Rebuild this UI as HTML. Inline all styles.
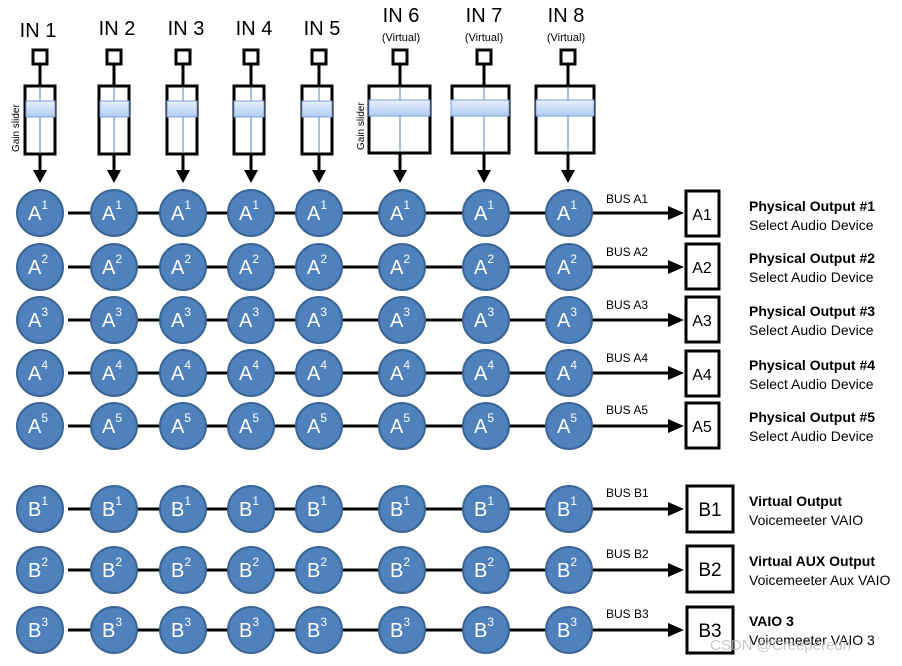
<!DOCTYPE html>
<html><head><meta charset="utf-8"><style>
html,body{margin:0;padding:0;background:#fff}
svg{display:block;font-family:"Liberation Sans",sans-serif}
.c{fill:#4f81bd;stroke:#3a6594;stroke-width:2}
.t{fill:#fff;font-size:20px}
.s{font-size:12px}
.ln{stroke:#000;stroke-width:3}
.box{fill:#fff;stroke:#000;stroke-width:3}
.in{font-size:20px;text-anchor:middle}
.v{font-size:11px;text-anchor:middle}
.bus{font-size:12px}
.ob{font-size:14px;font-weight:bold}
.od{font-size:14px}
.ol{font-size:19px;text-anchor:middle}
</style></head><body>
<svg width="902" height="666" viewBox="0 0 902 666">
<defs>
<linearGradient id="kn" x1="0" y1="0" x2="0" y2="1"><stop offset="0" stop-color="#e8f0fc"/><stop offset="1" stop-color="#aecbf3"/></linearGradient>
</defs>
<g>
<text class="in" x="38" y="37">IN 1</text>
<text class="in" x="117" y="35">IN 2</text>
<text class="in" x="186" y="35">IN 3</text>
<text class="in" x="254" y="35">IN 4</text>
<text class="in" x="322" y="35">IN 5</text>
<text class="in" x="401" y="22">IN 6</text>
<text class="in" x="484" y="22">IN 7</text>
<text class="in" x="566" y="22">IN 8</text>
<text class="v" x="401" y="41">(Virtual)</text>
<text class="v" x="484" y="41">(Virtual)</text>
<text class="v" x="566" y="41">(Virtual)</text>
<text font-size="10" transform="translate(19,152) rotate(-90)">Gain slider</text>
<text font-size="10" transform="translate(364,150) rotate(-90)">Gain slider</text>
</g>
<g stroke="#000" stroke-width="3" fill="#fff">
<rect x="33" y="50" width="14" height="14"/><rect x="107" y="50" width="14" height="14"/><rect x="176" y="50" width="14" height="14"/><rect x="244" y="50" width="14" height="14"/><rect x="312" y="50" width="14" height="14"/>
<rect x="393" y="50" width="14" height="14"/><rect x="477" y="50" width="14" height="14"/><rect x="561" y="50" width="14" height="14"/>
<path d="M40,64V86 M114,64V86 M183,64V86 M251,64V86 M319,64V86 M400,64V86 M484,64V86 M568,64V86" fill="none"/>
<rect x="25" y="86" width="30" height="68"/><rect x="99" y="86" width="30" height="68"/><rect x="167" y="86" width="30" height="68"/><rect x="234" y="86" width="30" height="68"/><rect x="302" y="86" width="30" height="68"/>
<rect x="369" y="86" width="61" height="67"/><rect x="452" y="86" width="57" height="67"/><rect x="536" y="86" width="58" height="67"/>
<path d="M40,154V172 M114,154V172 M183,154V172 M251,154V172 M319,154V172 M400,153V172 M484,153V172 M568,153V172" fill="none"/>
</g>
<g stroke="#4f81bd" stroke-width="1">
<path d="M40,88V152 M114,88V152 M183,88V152 M251,88V152 M319,88V152 M400,88V151 M484,88V151 M568,88V151"/>
</g>
<g fill="url(#kn)" stroke="#7aa0d8" stroke-width="1">
<rect x="26" y="101" width="29" height="16"/><rect x="100" y="101" width="29" height="16"/><rect x="167" y="101" width="30" height="16"/><rect x="234" y="101" width="30" height="16"/><rect x="302" y="101" width="30" height="16"/>
<rect x="369" y="100" width="61" height="16"/><rect x="451" y="100" width="58" height="16"/><rect x="536" y="100" width="58" height="16"/>
</g>
<g fill="#000">
<path d="M33,170h14l-7,13z"/><path d="M107,170h14l-7,13z"/><path d="M176,170h14l-7,13z"/><path d="M244,170h14l-7,13z"/><path d="M312,170h14l-7,13z"/><path d="M393,170h14l-7,13z"/><path d="M477,170h14l-7,13z"/><path d="M561,170h14l-7,13z"/>
</g>
<g class="ln">
<path d="M68,213H672 M68,267H672 M68,320H672 M68,373H672 M68,426H672 M68,509H672 M68,570H672 M68,630H672"/>
</g>
<g fill="#000">
<path d="M668,206l16,7l-16,7z"/><path d="M668,260l16,7l-16,7z"/><path d="M668,313l16,7l-16,7z"/><path d="M668,366l16,7l-16,7z"/><path d="M668,419l16,7l-16,7z"/><path d="M668,502l16,7l-16,7z"/><path d="M668,563l16,7l-16,7z"/><path d="M668,623l16,7l-16,7z"/>
</g>
<g class="bus">
<text x="606" y="203">BUS A1</text><text x="606" y="256">BUS A2</text><text x="606" y="309">BUS A3</text><text x="606" y="362">BUS A4</text><text x="606" y="414">BUS A5</text>
<text x="606" y="497">BUS B1</text><text x="606" y="558">BUS B2</text><text x="606" y="618">BUS B3</text>
</g>
<g class="box">
<rect x="686" y="191" width="33" height="45"/><rect x="686" y="244" width="33" height="45"/><rect x="686" y="297" width="33" height="45"/><rect x="686" y="351" width="33" height="45"/><rect x="686" y="403" width="33" height="45"/>
<rect x="687" y="486" width="46" height="46"/><rect x="687" y="546" width="46" height="46"/><rect x="687" y="607" width="46" height="46"/>
</g>
<g class="ol">
<text x="702" y="220" font-size="16">A1</text><text x="702" y="273" font-size="16">A2</text><text x="702" y="326" font-size="16">A3</text><text x="702" y="380" font-size="16">A4</text><text x="702" y="432" font-size="16">A5</text>
<text x="710" y="516">B1</text><text x="710" y="576">B2</text><text x="710" y="637">B3</text>
</g>
<g>
<text class="ob" x="749" y="211">Physical Output #1</text><text class="od" x="749" y="230">Select Audio Device</text>
<text class="ob" x="749" y="263">Physical Output #2</text><text class="od" x="749" y="282">Select Audio Device</text>
<text class="ob" x="749" y="316">Physical Output #3</text><text class="od" x="749" y="335">Select Audio Device</text>
<text class="ob" x="749" y="370">Physical Output #4</text><text class="od" x="749" y="389">Select Audio Device</text>
<text class="ob" x="749" y="422">Physical Output #5</text><text class="od" x="749" y="441">Select Audio Device</text>
<text class="ob" x="749" y="506">Virtual Output</text><text class="od" x="749" y="525">Voicemeeter VAIO</text>
<text class="ob" x="749" y="566">Virtual AUX Output</text><text class="od" x="749" y="585">Voicemeeter Aux VAIO</text>
<text class="ob" x="749" y="626">VAIO 3</text><text class="od" x="749" y="645">Voicemeeter VAIO 3</text>
<text x="710" y="650" font-size="15" fill="#bbb" opacity="0.8">CSDN @Creeperedn</text>
</g>
<g class="c">
<circle cx="40" cy="213" r="23"/><circle cx="114" cy="213" r="23"/><circle cx="183" cy="213" r="23"/><circle cx="251" cy="213" r="23"/><circle cx="319" cy="213" r="23"/><circle cx="402" cy="213" r="23"/><circle cx="486" cy="213" r="23"/><circle cx="569" cy="213" r="23"/>
<circle cx="40" cy="267" r="23"/><circle cx="114" cy="267" r="23"/><circle cx="183" cy="267" r="23"/><circle cx="251" cy="267" r="23"/><circle cx="319" cy="267" r="23"/><circle cx="402" cy="267" r="23"/><circle cx="486" cy="267" r="23"/><circle cx="569" cy="267" r="23"/>
<circle cx="40" cy="320" r="23"/><circle cx="114" cy="320" r="23"/><circle cx="183" cy="320" r="23"/><circle cx="251" cy="320" r="23"/><circle cx="319" cy="320" r="23"/><circle cx="402" cy="320" r="23"/><circle cx="486" cy="320" r="23"/><circle cx="569" cy="320" r="23"/>
<circle cx="40" cy="373" r="23"/><circle cx="114" cy="373" r="23"/><circle cx="183" cy="373" r="23"/><circle cx="251" cy="373" r="23"/><circle cx="319" cy="373" r="23"/><circle cx="402" cy="373" r="23"/><circle cx="486" cy="373" r="23"/><circle cx="569" cy="373" r="23"/>
<circle cx="40" cy="426" r="23"/><circle cx="114" cy="426" r="23"/><circle cx="183" cy="426" r="23"/><circle cx="251" cy="426" r="23"/><circle cx="319" cy="426" r="23"/><circle cx="402" cy="426" r="23"/><circle cx="486" cy="426" r="23"/><circle cx="569" cy="426" r="23"/>
<circle cx="40" cy="509" r="23"/><circle cx="114" cy="509" r="23"/><circle cx="183" cy="509" r="23"/><circle cx="251" cy="509" r="23"/><circle cx="319" cy="509" r="23"/><circle cx="402" cy="509" r="23"/><circle cx="486" cy="509" r="23"/><circle cx="569" cy="509" r="23"/>
<circle cx="40" cy="570" r="23"/><circle cx="114" cy="570" r="23"/><circle cx="183" cy="570" r="23"/><circle cx="251" cy="570" r="23"/><circle cx="319" cy="570" r="23"/><circle cx="402" cy="570" r="23"/><circle cx="486" cy="570" r="23"/><circle cx="569" cy="570" r="23"/>
<circle cx="40" cy="630" r="23"/><circle cx="114" cy="630" r="23"/><circle cx="183" cy="630" r="23"/><circle cx="251" cy="630" r="23"/><circle cx="319" cy="630" r="23"/><circle cx="402" cy="630" r="23"/><circle cx="486" cy="630" r="23"/><circle cx="569" cy="630" r="23"/>
</g>
<g class="t">
<text x="28" y="220">A<tspan class="s" dy="-11">1</tspan></text><text x="102" y="220">A<tspan class="s" dy="-11">1</tspan></text><text x="171" y="220">A<tspan class="s" dy="-11">1</tspan></text><text x="239" y="220">A<tspan class="s" dy="-11">1</tspan></text><text x="307" y="220">A<tspan class="s" dy="-11">1</tspan></text><text x="390" y="220">A<tspan class="s" dy="-11">1</tspan></text><text x="474" y="220">A<tspan class="s" dy="-11">1</tspan></text><text x="557" y="220">A<tspan class="s" dy="-11">1</tspan></text>
<text x="28" y="274">A<tspan class="s" dy="-11">2</tspan></text><text x="102" y="274">A<tspan class="s" dy="-11">2</tspan></text><text x="171" y="274">A<tspan class="s" dy="-11">2</tspan></text><text x="239" y="274">A<tspan class="s" dy="-11">2</tspan></text><text x="307" y="274">A<tspan class="s" dy="-11">2</tspan></text><text x="390" y="274">A<tspan class="s" dy="-11">2</tspan></text><text x="474" y="274">A<tspan class="s" dy="-11">2</tspan></text><text x="557" y="274">A<tspan class="s" dy="-11">2</tspan></text>
<text x="28" y="327">A<tspan class="s" dy="-11">3</tspan></text><text x="102" y="327">A<tspan class="s" dy="-11">3</tspan></text><text x="171" y="327">A<tspan class="s" dy="-11">3</tspan></text><text x="239" y="327">A<tspan class="s" dy="-11">3</tspan></text><text x="307" y="327">A<tspan class="s" dy="-11">3</tspan></text><text x="390" y="327">A<tspan class="s" dy="-11">3</tspan></text><text x="474" y="327">A<tspan class="s" dy="-11">3</tspan></text><text x="557" y="327">A<tspan class="s" dy="-11">3</tspan></text>
<text x="28" y="380">A<tspan class="s" dy="-11">4</tspan></text><text x="102" y="380">A<tspan class="s" dy="-11">4</tspan></text><text x="171" y="380">A<tspan class="s" dy="-11">4</tspan></text><text x="239" y="380">A<tspan class="s" dy="-11">4</tspan></text><text x="307" y="380">A<tspan class="s" dy="-11">4</tspan></text><text x="390" y="380">A<tspan class="s" dy="-11">4</tspan></text><text x="474" y="380">A<tspan class="s" dy="-11">4</tspan></text><text x="557" y="380">A<tspan class="s" dy="-11">4</tspan></text>
<text x="28" y="433">A<tspan class="s" dy="-11">5</tspan></text><text x="102" y="433">A<tspan class="s" dy="-11">5</tspan></text><text x="171" y="433">A<tspan class="s" dy="-11">5</tspan></text><text x="239" y="433">A<tspan class="s" dy="-11">5</tspan></text><text x="307" y="433">A<tspan class="s" dy="-11">5</tspan></text><text x="390" y="433">A<tspan class="s" dy="-11">5</tspan></text><text x="474" y="433">A<tspan class="s" dy="-11">5</tspan></text><text x="557" y="433">A<tspan class="s" dy="-11">5</tspan></text>
<text x="28" y="516">B<tspan class="s" dy="-11">1</tspan></text><text x="102" y="516">B<tspan class="s" dy="-11">1</tspan></text><text x="171" y="516">B<tspan class="s" dy="-11">1</tspan></text><text x="239" y="516">B<tspan class="s" dy="-11">1</tspan></text><text x="307" y="516">B<tspan class="s" dy="-11">1</tspan></text><text x="390" y="516">B<tspan class="s" dy="-11">1</tspan></text><text x="474" y="516">B<tspan class="s" dy="-11">1</tspan></text><text x="557" y="516">B<tspan class="s" dy="-11">1</tspan></text>
<text x="28" y="577">B<tspan class="s" dy="-11">2</tspan></text><text x="102" y="577">B<tspan class="s" dy="-11">2</tspan></text><text x="171" y="577">B<tspan class="s" dy="-11">2</tspan></text><text x="239" y="577">B<tspan class="s" dy="-11">2</tspan></text><text x="307" y="577">B<tspan class="s" dy="-11">2</tspan></text><text x="390" y="577">B<tspan class="s" dy="-11">2</tspan></text><text x="474" y="577">B<tspan class="s" dy="-11">2</tspan></text><text x="557" y="577">B<tspan class="s" dy="-11">2</tspan></text>
<text x="28" y="637">B<tspan class="s" dy="-11">3</tspan></text><text x="102" y="637">B<tspan class="s" dy="-11">3</tspan></text><text x="171" y="637">B<tspan class="s" dy="-11">3</tspan></text><text x="239" y="637">B<tspan class="s" dy="-11">3</tspan></text><text x="307" y="637">B<tspan class="s" dy="-11">3</tspan></text><text x="390" y="637">B<tspan class="s" dy="-11">3</tspan></text><text x="474" y="637">B<tspan class="s" dy="-11">3</tspan></text><text x="557" y="637">B<tspan class="s" dy="-11">3</tspan></text>
</g>
</svg>
</body></html>
